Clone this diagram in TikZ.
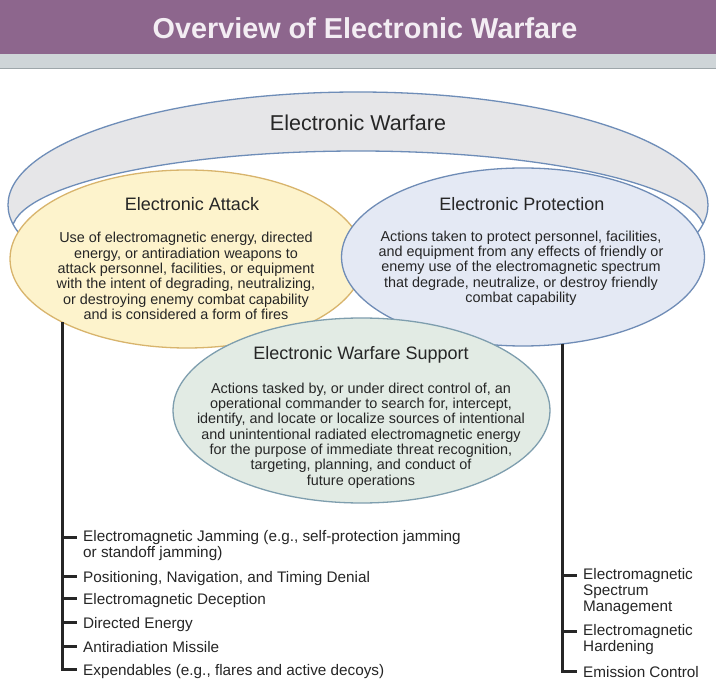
\documentclass[tikz,border=0pt]{standalone}
\usepackage{fontspec}
\setmainfont{Liberation Sans}
\usetikzlibrary{shapes.geometric}
\definecolor{purp}{HTML}{8D668D}
\definecolor{bandgrey}{HTML}{CFD5D8}
\definecolor{bandline}{HTML}{9EA6AA}
\definecolor{titlecol}{HTML}{F3EDF3}
\definecolor{ringfill}{HTML}{E6E6E8}
\definecolor{ringline}{HTML}{6E8DB8}
\definecolor{eafill}{HTML}{FDF3CC}
\definecolor{ealine}{HTML}{D8B46C}
\definecolor{epfill}{HTML}{E4E9F4}
\definecolor{epline}{HTML}{6F8CB6}
\definecolor{esfill}{HTML}{E2EBE4}
\definecolor{esline}{HTML}{7E9EAE}
\definecolor{txt}{HTML}{262626}
\begin{document}
\begin{tikzpicture}[x=1pt,y=-1pt,
  blob/.style={ellipse, inner sep=0pt, outer sep=0pt, line width=1.3pt},
  bigtitle/.style={font=\fontsize{21.5}{24}\selectfont, text=txt, inner sep=0pt},
  subtitle/.style={font=\fontsize{18}{20}\selectfont, text=txt, inner sep=0pt},
  body/.style={font=\fontsize{14.4}{15.3}\selectfont, text=txt, align=center, inner sep=0pt},
  item/.style={font=\fontsize{15.3}{16}\selectfont, text=txt, align=left, inner sep=0pt},
  oneitem/.style={item, anchor=west, text height=11pt, text depth=0pt, yshift=-0.5pt},
  multiitem/.style={item, anchor=north west},
  trunk/.style={draw=txt, line width=3pt, line join=miter}
]
\useasboundingbox (0,0) rectangle (716,695);
\fill[white] (0,0) rectangle (716,695);
% title bar
\fill[purp] (0,0) rectangle (716,54);
\fill[bandgrey] (0,54) rectangle (716,69);
\draw[bandline, line width=1pt] (0,69) -- (716,69);
\node[font=\bfseries\fontsize{28.8}{32}\selectfont, text=titlecol, inner sep=0pt] (title) at (365,28) {Overview of Electronic Warfare};

% Electronic Warfare ring (only its upper part shows)
\begin{scope}
  \clip (0,70) rectangle (716,240);
  \begin{scope}
    \clip (358,205) ellipse [x radius=350pt, y radius=113pt];
    \fill[ringfill] (358,205) ellipse [x radius=350pt, y radius=113pt];
    \fill[white] (358,231) ellipse [x radius=346pt, y radius=80pt];
    \draw[ringline, line width=1.3pt] (358,231) ellipse [x radius=346pt, y radius=80pt];
  \end{scope}
  \node[blob, draw=ringline, minimum width=700pt, minimum height=226pt] (ew) at (358,205) {};
\end{scope}
\node[bigtitle] (ewt) at (358,123) {Electronic Warfare};

% Electronic Attack
\node[blob, draw=ealine, fill=eafill, minimum width=354pt, minimum height=178pt] (ea) at (187,259) {};
\node[subtitle] (eat) at (192,204) {Electronic Attack};
\node[body] (eab) at (186,276) {Use of electromagnetic energy, directed\\energy, or antiradiation weapons to\\attack personnel, facilities, or equipment\\with the intent of degrading, neutralizing,\\or destroying enemy combat capability\\and is considered a form of fires};

% Electronic Protection
\node[blob, draw=epline, fill=epfill, minimum width=363pt, minimum height=178pt] (ep) at (523,257) {};
\node[subtitle] (ept) at (522,204) {Electronic Protection};
\node[body] (epb) at (521,268) {Actions taken to protect personnel, facilities,\\and equipment from any effects of friendly or\\enemy use of the electromagnetic spectrum\\that degrade, neutralize, or destroy friendly\\combat capability};

% Electronic Warfare Support
\node[blob, draw=esline, fill=esfill, minimum width=377pt, minimum height=185pt] (es) at (361.5,410.5) {};
\node[subtitle] (est) at (361,355) {Electronic Warfare Support};
\node[body] (esb) at (361,435.5) {Actions tasked by, or under direct control of, an\\operational commander to search for, intercept,\\identify, and locate or localize sources of intentional\\and unintentional radiated electromagnetic energy\\for the purpose of immediate threat recognition,\\targeting, planning, and conduct of\\future operations};

% left list
\node[multiitem] (i1) at (83,530.5) {Electromagnetic Jamming (e.g., self-protection jamming\\or standoff jamming)};
\node[oneitem] (i2) at (83,576) {Positioning, Navigation, and Timing Denial};
\node[oneitem] (i3) at (83,598.5) {Electromagnetic Deception};
\node[oneitem] (i4) at (83,622.5) {Directed Energy};
\node[oneitem] (i5) at (83,646) {Antiradiation Missile};
\node[oneitem] (i6) at (83,669) {Expendables (e.g., flares and active decoys)};
\coordinate (ta) at (62,322);
\coordinate (k1) at (77,537);
\coordinate (k2) at (77,576);
\coordinate (k3) at (77,598.5);
\coordinate (k4) at (77,622.5);
\coordinate (k5) at (77,646);
\coordinate (k6) at (77,669);
\draw[trunk] (ta) |- (k6);
\foreach \k in {k1,k2,k3,k4,k5} \draw[trunk] (ta |- \k) -- (\k);

% right list
\node[multiitem] (r1) at (583,568.5) {Electromagnetic\\Spectrum\\Management};
\node[multiitem] (r2) at (583,624.5) {Electromagnetic\\Hardening};
\node[oneitem] (r3) at (583,671) {Emission Control};
\coordinate (tr) at (562,344);
\coordinate (m1) at (577,575);
\coordinate (m2) at (577,631);
\coordinate (m3) at (577,671);
\draw[trunk] (tr) |- (m3);
\foreach \k in {m1,m2} \draw[trunk] (tr |- \k) -- (\k);
\end{tikzpicture}
\end{document}
